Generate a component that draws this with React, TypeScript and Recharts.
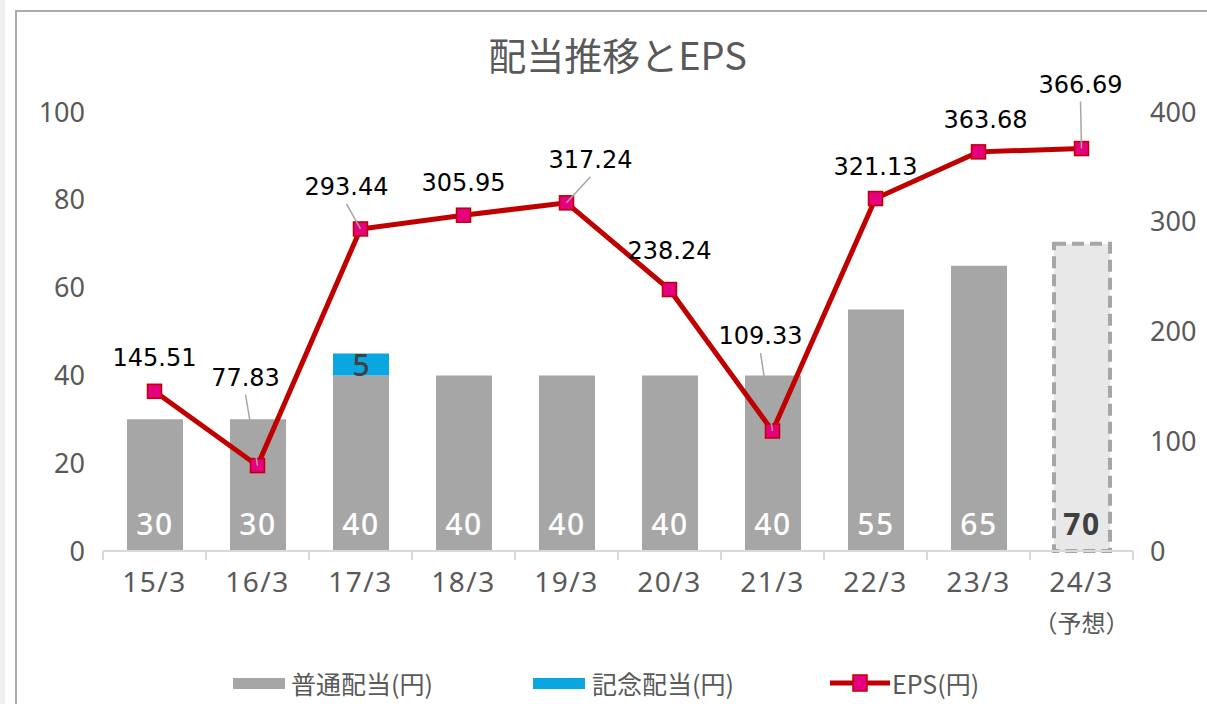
import React from "react";
import { ComposedChart, Bar, Line, XAxis, YAxis, Legend, LabelList, Cell } from "recharts";

const categories = ["15/3", "16/3", "17/3", "18/3", "19/3", "20/3", "21/3", "22/3", "23/3", "24/3"];
const subLabels = ["", "", "", "", "", "", "", "", "", "（予想）"];
const ordinaryDividend = [30, 30, 40, 40, 40, 40, 40, 55, 65, 70];
const commemorativeDividend = [null, null, 5, null, null, null, null, null, null, null];
const eps = [145.51, 77.83, 293.44, 305.95, 317.24, 238.24, 109.33, 321.13, 363.68, 366.69];
const forecastIndex = 9;
const leftTicks = [0, 20, 40, 60, 80, 100];
const rightTicks = [0, 100, 200, 300, 400];

// label placement relative to each EPS point: [dx, dy, leader line]
const epsLabelOffsets: [number, number, boolean][] = [
  [0, -33, false],
  [-12, -88, true],
  [-14, -42, true],
  [0, -32, false],
  [24, -43, true],
  [0, -39, false],
  [-12, -95, true],
  [0, -32, false],
  [7, -32, false],
  [-1, -64, true],
];

const data = categories.map((name, i) => ({
  name,
  sub: subLabels[i],
  ordinary: ordinaryDividend[i],
  commemorative: commemorativeDividend[i],
  eps: eps[i],
}));

const W = 1207;
const H = 704;
const LEFT_AXIS_W = 103;
const RIGHT_AXIS_W = 74;
const BAND = (W - LEFT_AXIS_W - RIGHT_AXIS_W) / categories.length;

const GREY = "#595959";
const FONT = "'Noto Sans', 'Noto Sans CJK JP', sans-serif";
const JP_FONT = "'Noto Sans CJK JP', sans-serif";

const CategoryTick = (props: any) => {
  const { x, y, payload, index } = props;
  const sub = subLabels[index];
  return (
    <g>
      <line x1={x - BAND / 2} x2={x - BAND / 2} y1={y} y2={y + 9} stroke="#d9d9d9" strokeWidth={2} />
      {index === categories.length - 1 && (
        <line x1={x + BAND / 2} x2={x + BAND / 2} y1={y} y2={y + 9} stroke="#d9d9d9" strokeWidth={2} />
      )}
      <text x={x} y={y + 30} textAnchor="middle" dominantBaseline="central" fill={GREY}
        fontSize={28} fontFamily={FONT} letterSpacing={1.5}>
        {payload.value}
      </text>
      {sub && (
        <text x={x} y={y + 70} textAnchor="middle" dominantBaseline="central" fill={GREY}
          fontSize={24} fontFamily={JP_FONT}>
          {sub}
        </text>
      )}
    </g>
  );
};

const OrdinaryLabel = (props: any) => {
  const { x, y, width, height, value, index } = props;
  if (value == null) return null;
  const forecast = index === forecastIndex;
  return (
    <text x={x + width / 2} y={y + height - 28} textAnchor="middle" dominantBaseline="central"
      fill={forecast ? "#404040" : "#ffffff"} fontWeight={forecast ? 700 : 500}
      fontSize={30} fontFamily={FONT} letterSpacing={1.5}>
      {value}
    </text>
  );
};

const CommemorativeLabel = (props: any) => {
  const { x, y, width, height, value } = props;
  if (!value) return null;
  return (
    <text x={x + width / 2} y={y + height / 2} textAnchor="middle" dominantBaseline="central"
      fill="#404040" fontSize={30} fontFamily={FONT} fontWeight={500}>
      {value}
    </text>
  );
};

const EpsLabel = (props: any) => {
  const { x, y, value, index } = props;
  const [dx, dy, leader] = epsLabelOffsets[index];
  const lx = x + dx;
  const ly = y + dy;
  return (
    <g>
      {leader && <line x1={lx} y1={ly + 17} x2={x} y2={y} stroke="#a6a6a6" strokeWidth={1.5} />}
      <text x={lx} y={ly} textAnchor="middle" dominantBaseline="central" fill="#000000"
        fontSize={24} fontFamily="'DejaVu Sans', sans-serif">
        {value.toFixed(2)}
      </text>
    </g>
  );
};

const EpsDot = (props: any) => {
  const { cx, cy, index } = props;
  return <rect key={`dot-${index}`} x={cx - 7} y={cy - 7} width={14} height={14} fill="#e4007f" stroke="#c00000" strokeWidth={1.5} />;
};

const LegendContent = () => (
  <div style={{ display: "flex", alignItems: "center", height: 34, paddingLeft: 233, fontFamily: JP_FONT, fontSize: 25, color: GREY }}>
    <span style={{ display: "inline-block", width: 52, height: 11, background: "#a6a6a6", marginRight: 6 }} />
    <span style={{ display: "inline-block", width: 242 }}>普通配当(円)</span>
    <span style={{ display: "inline-block", width: 52, height: 11, background: "#0aa6e0", marginRight: 7 }} />
    <span style={{ display: "inline-block", width: 238 }}>記念配当(円)</span>
    <svg width={60} height={20} style={{ marginRight: 2 }}>
      <line x1={0} x2={60} y1={10} y2={10} stroke="#c00000" strokeWidth={5} />
      <rect x={23} y={2} width={14} height={16} fill="#e4007f" stroke="#c00000" strokeWidth={1.5} />
    </svg>
    <span>EPS(円)</span>
  </div>
);

export default function App() {
  return (
    <div style={{ position: "absolute", left: 0, top: 0, width: W, height: H, background: "#ffffff", overflow: "hidden" }}>
      <div style={{ position: "absolute", left: 0, top: 0, width: 5, height: H, background: "#efefef" }} />
      <div style={{ position: "absolute", left: 15, top: 10, width: 1300, height: 900, border: "2px solid #ababab" }} />
      <div style={{ position: "absolute", left: 0, top: 33, width: 1235, textAlign: "center", fontFamily: JP_FONT, fontSize: 38, color: GREY, lineHeight: "42px" }}>
        配当推移とEPS
      </div>
      <div style={{ position: "absolute", left: 0, top: 0 }}>
        <ComposedChart width={W} height={H} data={data} margin={{ top: 112, right: 0, bottom: 8, left: 0 }}>
          <XAxis dataKey="name" height={111} axisLine={{ stroke: "#d9d9d9", strokeWidth: 2 }}
            tickLine={false} tickSize={0} tickMargin={0} interval={0} tick={<CategoryTick />} />
          <YAxis yAxisId="left" domain={[0, 100]} ticks={leftTicks} width={LEFT_AXIS_W}
            axisLine={false} tickLine={false} tickSize={0} tickMargin={18}
            tick={{ fill: GREY, fontSize: 27, fontFamily: FONT }} />
          <YAxis yAxisId="right" orientation="right" domain={[0, 400]} ticks={rightTicks} width={RIGHT_AXIS_W}
            axisLine={false} tickLine={false} tickSize={0} tickMargin={17}
            tick={{ fill: GREY, fontSize: 27, fontFamily: FONT, textAnchor: "start" }} />
          <Legend verticalAlign="bottom" wrapperStyle={{ bottom: 4, left: 0, width: W }} content={<LegendContent />} />
          <Bar yAxisId="left" dataKey="ordinary" name="普通配当(円)" stackId="d" barSize={56} fill="#a6a6a6" isAnimationActive={false}>
            {data.map((_, i) => (
              <Cell key={i}
                fill={i === forecastIndex ? "#e8e8e8" : "#a6a6a6"}
                stroke={i === forecastIndex ? "#a6a6a6" : "none"}
                strokeWidth={i === forecastIndex ? 4 : 0}
                strokeDasharray={i === forecastIndex ? "12 6" : undefined} />
            ))}
            <LabelList dataKey="ordinary" content={<OrdinaryLabel />} />
          </Bar>
          <Bar yAxisId="left" dataKey="commemorative" name="記念配当(円)" stackId="d" barSize={56} fill="#0aa6e0" isAnimationActive={false}>
            <LabelList dataKey="commemorative" content={<CommemorativeLabel />} />
          </Bar>
          <Line yAxisId="right" dataKey="eps" name="EPS(円)" stroke="#c00000" strokeWidth={5}
            dot={<EpsDot />} activeDot={false} isAnimationActive={false}>
            <LabelList dataKey="eps" content={<EpsLabel />} />
          </Line>
        </ComposedChart>
      </div>
    </div>
  );
}
